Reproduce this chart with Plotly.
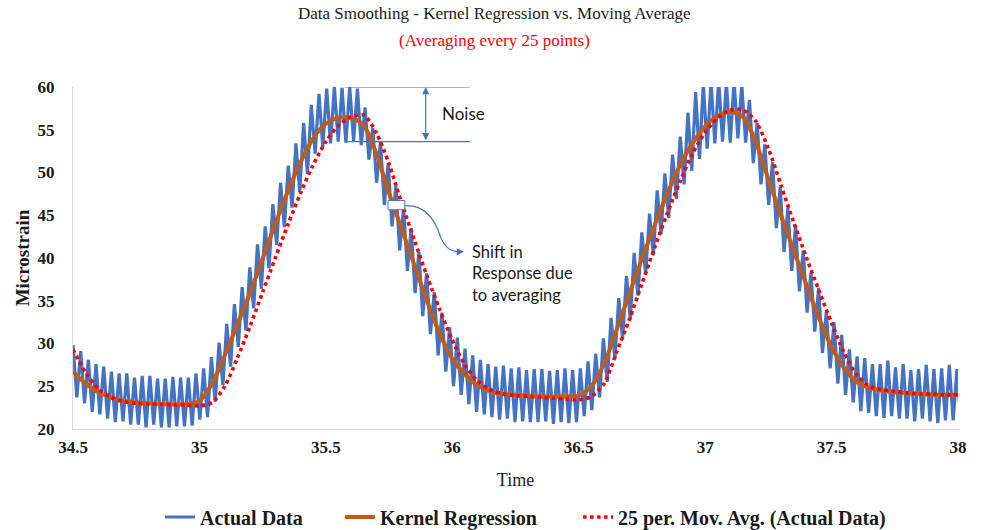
import numpy as np
import plotly.graph_objects as go

# ---- sampling -------------------------------------------------------------
START_TIME = 34.5
RAW_DT = 0.0152      # spacing between successive raw samples (alternating peak / trough)
SMOOTH_DT = 0.05     # spacing of the smoothed series

# ---- raw strain signal: successive peak and trough readings ----------------
raw_peaks = [
    29.8, 29.1, 28.1, 27.6, 27.3, 26.7, 26.5, 26.5, 26.0, 26.2,
    26.2, 25.9, 25.9, 26.1, 26.0, 26.0, 26.5, 27.1, 28.4, 30.1,
    32.3, 34.6, 36.6, 38.9, 41.6, 43.7, 46.3, 48.8, 50.8, 53.4,
    55.8, 57.9, 59.2, 59.8, 60.0, 59.9, 60.0, 59.8, 57.6, 55.2,
    53.6, 51.1, 48.4, 45.9, 43.5, 40.7, 38.2, 36.0, 33.6, 31.9,
    30.7, 29.4, 28.6, 28.1, 27.6, 27.3, 27.4, 27.1, 27.2, 26.9,
    27.0, 27.0, 26.8, 26.9, 27.1, 26.9, 27.1, 27.9, 28.8, 30.6,
    33.0, 35.3, 37.9, 40.6, 43.0, 45.2, 47.9, 49.9, 52.1, 54.2,
    57.0, 59.4, 60.4, 60.6, 60.8, 60.5, 60.7, 60.3, 58.5, 55.8,
    53.3, 51.2, 48.3, 45.9, 43.8, 40.9, 38.3, 36.5, 33.7, 32.5,
    31.0, 29.3, 28.5, 28.3, 27.6, 27.6, 28.0, 27.2, 27.6, 26.9,
    27.0, 27.5, 27.0, 27.1, 27.5, 27.0,
]
raw_troughs = [
    23.7, 23.0, 22.0, 21.7, 21.2, 20.8, 20.9, 20.5, 20.5, 20.2,
    20.5, 20.2, 20.2, 20.3, 20.3, 20.4, 21.1, 21.4, 23.2, 25.1,
    27.3, 29.6, 31.5, 34.1, 36.4, 38.8, 41.5, 43.6, 45.9, 47.7,
    49.8, 52.2, 53.0, 53.4, 53.6, 53.5, 53.7, 53.2, 51.5, 48.8,
    46.2, 43.7, 40.9, 38.5, 35.9, 33.2, 31.1, 28.6, 26.7, 25.0,
    24.0, 22.9, 22.0, 21.7, 21.4, 21.1, 21.2, 20.8, 20.9, 20.8,
    20.8, 20.9, 20.6, 20.8, 20.7, 20.8, 21.5, 22.2, 23.7, 25.5,
    28.2, 30.5, 32.8, 35.6, 38.1, 40.3, 42.8, 44.7, 46.9, 48.6,
    50.2, 51.6, 52.8, 53.4, 53.6, 53.5, 54.0, 53.5, 51.1, 48.6,
    46.2, 43.5, 40.7, 38.5, 36.1, 33.6, 31.4, 28.9, 27.1, 25.3,
    24.0, 23.1, 22.1, 21.9, 21.5, 21.3, 21.5, 21.2, 21.2, 20.9,
    21.2, 20.9, 20.7, 21.0, 21.0, 20.9,
]

# ---- smoothed series (every 0.05 s) ----------------------------------------
kernel_vals = [
    26.7, 25.3, 24.3, 23.7, 23.3, 23.1, 23.0, 22.9, 22.9, 22.9,
    23.3, 25.3, 28.6, 32.2, 35.9, 39.9, 44.0, 47.8, 51.2, 54.0,
    55.7, 56.4, 56.4, 55.5, 52.2, 47.6, 43.4, 39.2, 35.0, 31.2,
    28.2, 26.4, 25.1, 24.4, 24.1, 24.0, 23.9, 23.8, 23.8, 23.8,
    23.9, 25.0, 27.6, 31.6, 35.8, 39.9, 43.8, 47.5, 50.8, 53.4,
    55.4, 56.6, 57.1, 56.5, 53.6, 49.2, 45.0, 40.9, 36.9, 33.0,
    29.6, 27.1, 25.5, 24.8, 24.5, 24.3, 24.2, 24.1, 24.0, 24.0,
    24.0,
]
movavg_vals = [
    29.3, 26.6, 24.7, 23.7, 23.2, 23.0, 22.9, 22.9, 22.8, 22.8,
    22.7, 23.1, 25.0, 28.3, 32.0, 36.0, 40.0, 43.9, 47.6, 50.9,
    53.6, 55.5, 56.5, 56.7, 54.6, 51.0, 46.4, 42.1, 37.9, 34.0,
    30.4, 27.5, 25.6, 24.6, 24.1, 23.9, 23.8, 23.7, 23.6, 23.5,
    23.4, 23.8, 25.3, 29.0, 32.8, 37.0, 41.2, 45.2, 48.9, 52.2,
    54.7, 56.4, 57.3, 57.3, 56.0, 52.8, 48.5, 44.2, 40.1, 36.2,
    32.4, 28.9, 26.3, 25.0, 24.6, 24.4, 24.2, 24.1, 24.1, 24.0,
    24.0,
]

x_tick_vals = [34.5, 35, 35.5, 36, 36.5, 37, 37.5, 38]
x_tick_text = ["34.5", "35", "35.5", "36", "36.5", "37", "37.5", "38"]
y_tick_vals = [20, 25, 30, 35, 40, 45, 50, 55, 60]

series_names = ["Actual Data", "Kernel Regression", "25 per. Mov. Avg. (Actual Data)"]

# ---- assemble -------------------------------------------------------------
raw_vals = [v for pair in zip(raw_peaks, raw_troughs) for v in pair]
raw_time = START_TIME + RAW_DT * np.arange(len(raw_vals))
smooth_time = START_TIME + SMOOTH_DT * np.arange(len(kernel_vals))

SERIF = "Liberation Serif, Times New Roman, serif"
SANS = "Lato, Open Sans, sans-serif"
INK = "#1a1a1a"
BLUE = "#4472C4"
ORANGE = "#C55A11"
RED = "#FF0000"

fig = go.Figure()
fig.add_trace(go.Scatter(x=raw_time, y=raw_vals, mode="lines", name=series_names[0],
                         legend="legend", line=dict(color=BLUE, width=3.2)))
fig.add_trace(go.Scatter(x=smooth_time, y=kernel_vals, mode="lines", name=series_names[1],
                         legend="legend2",
                         line=dict(color=ORANGE, width=4, shape="spline", smoothing=0.8)))
fig.add_trace(go.Scatter(x=smooth_time, y=movavg_vals, mode="lines", name=series_names[2],
                         legend="legend3",
                         line=dict(color=RED, width=3.6, dash="3.6px,3.4px",
                                   shape="spline", smoothing=0.8)))

# "Noise" bracket
noise_top, noise_bottom = 60.0, 53.6
bracket_x0, bracket_x1 = 35.575, 36.07
for level in (noise_top, noise_bottom):
    fig.add_shape(type="line", xref="x", yref="y", x0=bracket_x0, x1=bracket_x1,
                  y0=level, y1=level, line=dict(color=BLUE, width=1.2), layer="above")

# marker box on the falling edge and curved pointer
fig.add_shape(type="rect", xref="x", yref="y", x0=35.746, x1=35.812, y0=45.64, y1=46.73,
              fillcolor="white", line=dict(color=BLUE, width=1), layer="above")
fig.add_shape(type="path", xref="x", yref="y", layer="above",
              path="M 35.8123,46.112 C 35.8913,46.229 35.9308,44.473 35.9506,42.717 "
                   "C 35.9664,41.311 35.9901,40.726 36.0296,40.726",
              line=dict(color=BLUE, width=1.2))

annotations = [
    dict(text="Data Smoothing - Kernel Regression vs. Moving Average", xref="paper", yref="paper",
         x=0.476, y=1.2135, yanchor="middle", showarrow=False,
         font=dict(family=SERIF, size=17, color=INK)),
    dict(text="(Averaging every 25 points)", xref="paper", yref="paper",
         x=0.476, y=1.137, yanchor="middle", showarrow=False,
         font=dict(family=SERIF, size=17, color=RED)),
    # double-headed arrow spanning the noise band
    dict(x=35.895, y=noise_top, ax=35.895, ay=noise_bottom, xref="x", yref="y",
         axref="x", ayref="y", text="", showarrow=True, arrowhead=2, arrowsize=1.2,
         arrowwidth=1.2, arrowcolor=BLUE, arrowside="end+start", standoff=0, startstandoff=0),
    dict(text="Noise", x=35.951, y=56.88, xref="x", yref="y", xanchor="left", showarrow=False,
         font=dict(family=SANS, size=17, color=INK)),
    # arrow head of the curved pointer
    dict(x=36.046, y=40.726, ax=-8, ay=0, xref="x", yref="y", text="", showarrow=True,
         arrowhead=2, arrowsize=1.2, arrowwidth=1.2, arrowcolor=BLUE, standoff=0),
    dict(text="Shift in<br>Response due<br>to averaging", x=36.069, y=38.2, xref="x", yref="y",
         xanchor="left", yanchor="middle", align="left", showarrow=False,
         font=dict(family=SANS, size=16.5, color=INK)),
]

legend_font = dict(family=SERIF, size=20, color=INK, weight="bold")
legend_common = dict(orientation="h", xanchor="left", xref="paper", y=0.0245,
                     yanchor="middle", yref="container", font=legend_font,
                     itemwidth=30, bgcolor="rgba(0,0,0,0)")

fig.update_layout(
    width=983, height=530,
    margin=dict(l=73, r=25, t=87, b=101),
    paper_bgcolor="white", plot_bgcolor="white",
    annotations=annotations,
    showlegend=True,
    legend=dict(x=0.0983, **legend_common),
    legend2=dict(x=0.3017, **legend_common),
    legend3=dict(x=0.5706, **legend_common),
    xaxis=dict(range=[34.5, 38], tickvals=x_tick_vals, ticktext=x_tick_text, automargin=False,
               showgrid=False, zeroline=False, showline=True, linecolor="#D9D9D9", linewidth=1,
               ticks="", ticklabelstandoff=3,
               tickfont=dict(family=SERIF, size=17, color=INK, weight="bold"),
               title=dict(text="Time", standoff=16,
                          font=dict(family=SERIF, size=18, color=INK))),
    yaxis=dict(range=[20, 60], tickvals=y_tick_vals, automargin=False,
               showgrid=False, zeroline=False, showline=True, linecolor="#D9D9D9", linewidth=1,
               ticks="", ticklabelstandoff=14,
               tickfont=dict(family=SERIF, size=17, color=INK, weight="bold"),
               title=dict(text="Microstrain", standoff=2,
                          font=dict(family=SERIF, size=19, color=INK, weight="bold"))),
)

fig.write_html("out.html")
